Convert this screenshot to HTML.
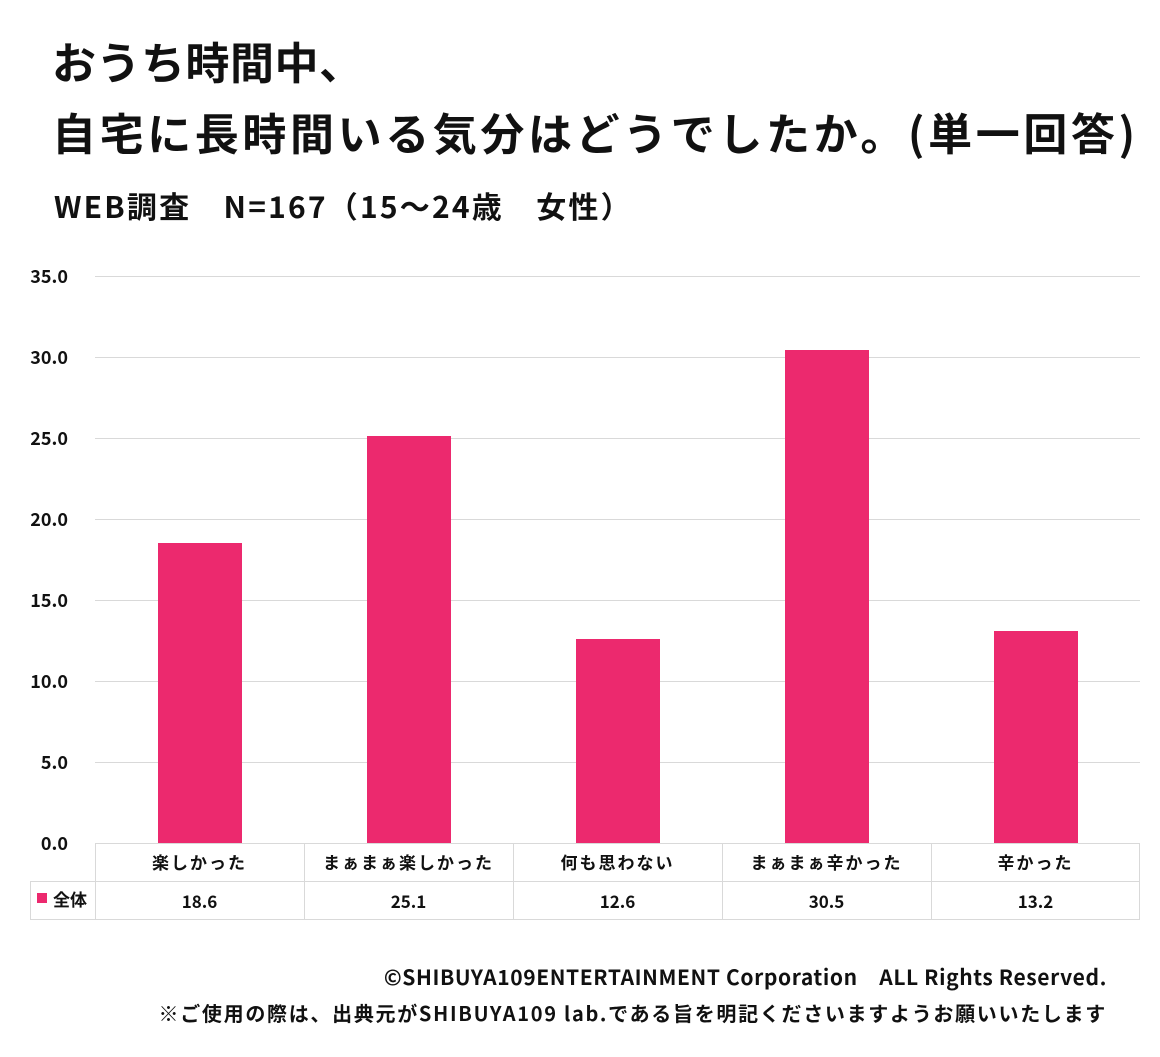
<!DOCTYPE html>
<html><head><meta charset="utf-8"><style>
body{margin:0;width:1160px;height:1057px;background:#fff;position:relative;font-family:"Noto Sans CJK JP","Liberation Sans",sans-serif;color:#111;overflow:hidden}
.a{position:absolute;white-space:nowrap}
.t{font-weight:bold;font-size:44px;left:52px;line-height:1}
.g{position:absolute;left:95px;width:1045px;height:1px;background:#d9d9d9}
.yl{position:absolute;left:0;width:68px;text-align:right;font-weight:bold;font-size:18px;line-height:22px}
.bar{position:absolute;background:#ec296e;width:84px}
.cell{position:absolute;text-align:center;font-weight:bold;font-size:17px;width:209px;line-height:22px}
.vl{position:absolute;width:1px;background:#d9d9d9}
</style></head><body>
<div class="a t" style="top:38px;letter-spacing:0.5px">おうち時間中、</div>
<div class="a t" style="top:109px;letter-spacing:3.6px">自宅に長時間いる気分はどうでしたか。(単一回答)</div>
<div class="a" style="left:54px;top:185px;font-size:30px;font-weight:bold;line-height:40px;letter-spacing:2.2px">WEB調査　N=167（15～24歳　女性）</div>

<div class="g" style="top:276px"></div><div class="g" style="top:357px"></div><div class="g" style="top:438px"></div>
<div class="g" style="top:519px"></div><div class="g" style="top:600px"></div><div class="g" style="top:681px"></div><div class="g" style="top:762px"></div>
<div class="yl" style="top:265px">35.0</div><div class="yl" style="top:346px">30.0</div><div class="yl" style="top:427px">25.0</div>
<div class="yl" style="top:508px">20.0</div><div class="yl" style="top:589px">15.0</div><div class="yl" style="top:670px">10.0</div>
<div class="yl" style="top:751px">5.0</div><div class="yl" style="top:832px">0.0</div>

<div class="bar" style="left:158px;top:543px;height:300px"></div>
<div class="bar" style="left:367px;top:436px;height:407px"></div>
<div class="bar" style="left:576px;top:639px;height:204px"></div>
<div class="bar" style="left:785px;top:350px;height:493px"></div>
<div class="bar" style="left:994px;top:631px;height:212px"></div>

<div class="a" style="left:95px;top:843px;width:1045px;height:1px;background:#d9d9d9"></div>
<div class="a" style="left:30px;top:881px;width:1110px;height:1px;background:#d9d9d9"></div>
<div class="a" style="left:30px;top:919px;width:1110px;height:1px;background:#d9d9d9"></div>
<div class="vl" style="left:30px;top:881px;height:39px"></div>
<div class="vl" style="left:95px;top:843px;height:77px"></div>
<div class="vl" style="left:304px;top:843px;height:77px"></div>
<div class="vl" style="left:513px;top:843px;height:77px"></div>
<div class="vl" style="left:722px;top:843px;height:77px"></div>
<div class="vl" style="left:931px;top:843px;height:77px"></div>
<div class="vl" style="left:1139px;top:843px;height:77px"></div>

<div class="cell" style="left:95px;top:851px;letter-spacing:2px">楽しかった</div>
<div class="cell" style="left:304px;top:851px;letter-spacing:2px">まぁまぁ楽しかった</div>
<div class="cell" style="left:513px;top:851px;letter-spacing:2px">何も思わない</div>
<div class="cell" style="left:722px;top:851px;letter-spacing:2px">まぁまぁ辛かった</div>
<div class="cell" style="left:931px;top:851px;letter-spacing:2px">辛かった</div>
<div class="a" style="left:37px;top:893px;width:10px;height:10px;background:#ec296e"></div>
<div class="a" style="left:53px;top:888px;font-size:17px;font-weight:bold;line-height:22px">全体</div>
<div class="cell" style="left:95px;top:890px">18.6</div>
<div class="cell" style="left:304px;top:890px">25.1</div>
<div class="cell" style="left:513px;top:890px">12.6</div>
<div class="cell" style="left:722px;top:890px">30.5</div>
<div class="cell" style="left:931px;top:890px">13.2</div>

<div class="a" style="right:53px;top:962px;font-size:21px;font-weight:bold;line-height:30px;letter-spacing:0.6px">©SHIBUYA109ENTERTAINMENT Corporation　ALL Rights Reserved.</div>
<div class="a" style="right:53px;top:998px;font-size:20px;font-weight:bold;line-height:30px;letter-spacing:1.7px">※ご使用の際は、出典元がSHIBUYA109 lab.である旨を明記くださいますようお願いいたします</div>
</body></html>
